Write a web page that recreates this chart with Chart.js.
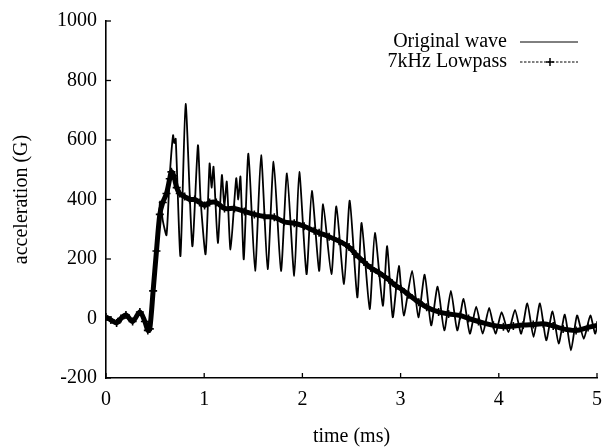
<!DOCTYPE html>
<html>
<head>
<meta charset="utf-8">
<script src="https://cdn.jsdelivr.net/npm/chart.js@4.4.0/dist/chart.umd.min.js"></script>
<style>
html,body{margin:0;padding:0;background:#fff;}
#wrap{width:612px;height:447px;position:relative;}
</style>
</head>
<body>
<div id="wrap"><canvas id="c" width="612" height="447"></canvas></div>
<script>
// ---- data (time in ms, acceleration in G) ----
const seriesLabels = ["Original wave", "7kHz Lowpass"];
const xTickValues = [0, 1, 2, 3, 4, 5];
const yTickValues = [-200, 0, 200, 400, 600, 800, 1000];

const origT = [0.000,0.050,0.109,0.152,0.203,0.271,0.345,0.426,0.446,0.480,0.514,0.551,0.578,0.616,0.649,0.683,0.695,0.710,0.758,0.811,0.879,0.936,0.963,1.014,1.055,1.075,1.095,1.139,1.180,1.205,1.230,1.268,1.326,1.347,1.369,1.403,1.450,1.518,1.579,1.646,1.707,1.782,1.843,1.917,1.968,2.042,2.096,2.170,2.211,2.295,2.346,2.424,2.482,2.559,2.603,2.685,2.738,2.819,2.863,2.920,2.982,3.032,3.117,3.181,3.245,3.311,3.377,3.445,3.512,3.577,3.641,3.705,3.770,3.836,3.902,3.966,4.029,4.097,4.165,4.228,4.290,4.354,4.419,4.483,4.547,4.610,4.672,4.735,4.797,4.865,4.932,4.980,5.000];
const origV = [0,-5,-17,0,13,-12,24,-45,-35,93,227,393,330,280,480,616,590,604,210,721,243,582,400,216,521,440,510,254,482,380,460,232,471,400,477,199,554,160,549,166,527,160,488,143,493,149,429,160,384,149,377,116,396,71,321,32,288,43,243,4,177,10,160,4,147,-23,107,-40,93,-40,66,-51,40,-51,36,-51,21,-46,29,-51,51,-62,51,-73,24,-84,13,-107,10,-68,10,-51,-30];

const lowT = [0.000,0.050,0.108,0.152,0.203,0.271,0.345,0.396,0.426,0.446,0.480,0.514,0.548,0.578,0.616,0.649,0.666,0.690,0.720,0.751,0.801,0.852,0.903,0.953,1.004,1.055,1.123,1.207,1.308,1.410,1.511,1.613,1.714,1.815,1.917,2.018,2.120,2.170,2.272,2.373,2.475,2.543,2.627,2.698,2.779,2.880,2.951,3.002,3.083,3.185,3.266,3.387,3.489,3.607,3.692,3.793,3.945,4.047,4.148,4.249,4.351,4.452,4.554,4.655,4.787,4.909,5.000];
const lowV = [5,-5,-15,0,12,-10,22,-10,-40,-35,93,227,350,390,420,470,493,480,440,420,410,400,400,390,380,390,390,370,370,360,350,343,340,325,320,310,295,288,275,260,240,216,190,170,154,130,110,100,80,55,38,22,15,10,0,-10,-23,-28,-25,-22,-20,-18,-25,-35,-40,-30,-23];

const FONT = "'Liberation Serif', 'DejaVu Serif', serif";

const inwardTicks = {
  id: 'inwardTicks',
  afterDraw(chart) {
    const ctx = chart.ctx, xs = chart.scales.x, ys = chart.scales.y, a = chart.chartArea;
    ctx.save();
    ctx.strokeStyle = '#000';
    ctx.lineWidth = 1.3;
    xTickValues.forEach(v => {
      const px = xs.getPixelForValue(v);
      ctx.beginPath(); ctx.moveTo(px, a.bottom); ctx.lineTo(px, a.bottom - 5); ctx.stroke();
    });
    yTickValues.forEach(v => {
      const py = ys.getPixelForValue(v);
      ctx.beginPath(); ctx.moveTo(a.left, py); ctx.lineTo(a.left + 5, py); ctx.stroke();
    });
    ctx.restore();
  }
};

const sideLegend = {
  id: 'sideLegend',
  afterDraw(chart) {
    const ctx = chart.ctx;
    ctx.save();
    ctx.font = "20px " + FONT;
    ctx.fillStyle = '#000';
    ctx.textAlign = 'right';
    ctx.textBaseline = 'middle';
    const rows = [42, 62];
    chart.data.datasets.forEach((ds, i) => {
      const y = rows[i];
      ctx.fillText(ds.label, 507, y);
      ctx.strokeStyle = '#000';
      ctx.lineWidth = 1;
      if (i === 1) ctx.setLineDash([2.5, 1.5]); else ctx.setLineDash([]);
      ctx.beginPath(); ctx.moveTo(520, y); ctx.lineTo(578, y); ctx.stroke();
      ctx.setLineDash([]);
      if (i === 1) {
        ctx.beginPath();
        ctx.moveTo(546, y); ctx.lineTo(554, y);
        ctx.moveTo(550, y - 4); ctx.lineTo(550, y + 4);
        ctx.lineWidth = 1.5;
        ctx.stroke();
      }
    });
    ctx.restore();
  }
};

new Chart(document.getElementById('c'), {
  type: 'line',
  data: {
    datasets: [
      {
        label: seriesLabels[0],
        data: origT.map((t, i) => ({x: t, y: origV[i]})),
        borderColor: '#000',
        borderWidth: 1.8,
        pointRadius: 0,
        tension: 0.2,
        fill: false
      },
      {
        label: seriesLabels[1],
        data: lowT.map((t, i) => ({x: t, y: lowV[i]})),
        borderColor: '#000',
        backgroundColor: '#000',
        borderWidth: 5,
        pointStyle: 'cross',
        pointRadius: 4,
        pointBorderWidth: 1.6,
        pointBorderColor: '#000',
        tension: 0.3,
        fill: false
      }
    ]
  },
  options: {
    responsive: false,
    animation: false,
    events: [],
    layout: { padding: { left: 0, top: 18, right: 13, bottom: 0 } },
    plugins: { legend: { display: false }, tooltip: { enabled: false } },
    scales: {
      x: {
        type: 'linear',
        min: 0, max: 5,
        afterFit(axis) { axis.height = 69; },
        afterBuildTicks(axis) { axis.ticks = xTickValues.map(v => ({value: v})); },
        grid: { display: true, drawOnChartArea: false, drawTicks: false },
        border: { display: true, color: '#000', width: 1.6 },
        ticks: { color: '#000', font: { family: FONT, size: 20 }, padding: 10, maxRotation: 0, callback: v => String(v) },
        title: { display: true, text: 'time (ms)', color: '#000', font: { family: FONT, size: 20, lineHeight: 1.0 }, padding: { top: 0, bottom: 0 } }
      },
      y: {
        type: 'linear',
        min: -200, max: 1000,
        afterFit(axis) { axis.width = 106; },
        afterBuildTicks(axis) { axis.ticks = yTickValues.map(v => ({value: v})); },
        grid: { display: true, drawOnChartArea: false, drawTicks: false },
        border: { display: true, color: '#000', width: 1.6 },
        ticks: { color: '#000', font: { family: FONT, size: 20 }, padding: 9, callback: v => String(v) },
        title: { display: true, text: 'acceleration (G)', color: '#000', font: { family: FONT, size: 20, lineHeight: 1.2 }, padding: { top: 10, bottom: 0 } }
      }
    }
  },
  plugins: [inwardTicks, sideLegend]
});
</script>
</body>
</html>
